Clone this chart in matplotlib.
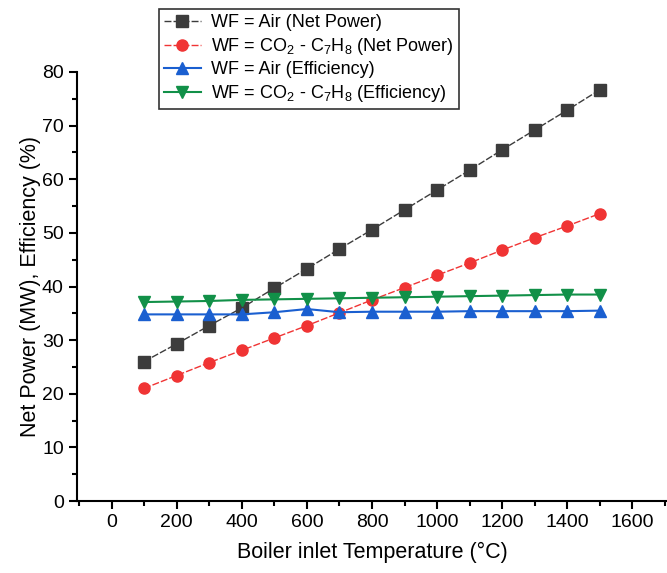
import matplotlib.pyplot as plt
from matplotlib.ticker import MultipleLocator

plt.rcParams['font.family'] = ['Liberation Sans', 'DejaVu Sans']
plt.rcParams['mathtext.default'] = 'regular'

temp = [100, 200, 300, 400, 500, 600, 700, 800, 900, 1000, 1100, 1200, 1300, 1400, 1500]
air_power = [26.0, 29.3, 32.7, 36.0, 39.7, 43.3, 47.0, 50.6, 54.3, 58.0, 61.7, 65.5, 69.2, 72.9, 76.7]
co2_power = [21.0, 23.4, 25.8, 28.1, 30.4, 32.7, 35.1, 37.5, 39.8, 42.1, 44.4, 46.8, 49.1, 51.3, 53.6]
air_eff = [34.8, 34.8, 34.8, 34.8, 35.2, 35.8, 35.2, 35.3, 35.3, 35.3, 35.4, 35.4, 35.4, 35.4, 35.5]
co2_eff = [37.1, 37.2, 37.3, 37.5, 37.6, 37.7, 37.8, 37.9, 38.0, 38.1, 38.2, 38.3, 38.4, 38.5, 38.5]

labels = ['WF = Air (Net Power)',
          'WF = CO$_2$ - C$_7$H$_8$ (Net Power)',
          'WF = Air (Efficiency)',
          'WF = CO$_2$ - C$_7$H$_8$ (Efficiency)']

fig = plt.figure(figsize=(6.67, 5.73), dpi=100)
ax = fig.add_axes([77 / 667, (573 - 501) / 573, 1 - 77 / 667, (501 - 72) / 573])

ax.plot(temp, air_power, color='#3c3c3c', marker='s', ms=8, lw=1, ls=(0, (5, 1.5)), label=labels[0])
ax.plot(temp, co2_power, color='#f03434', marker='o', ms=8, lw=1, ls=(0, (5, 1.5)), label=labels[1])
ax.plot(temp, air_eff, color='#1a5fd0', marker='^', ms=9, lw=1.5, label=labels[2])
ax.plot(temp, co2_eff, color='#119048', marker='v', ms=9, lw=1.5, label=labels[3])

ax.set_xlim(-106, 1706)
ax.set_ylim(0, 80)
ax.xaxis.set_major_locator(MultipleLocator(200))
ax.xaxis.set_minor_locator(MultipleLocator(100))
ax.yaxis.set_major_locator(MultipleLocator(10))
ax.yaxis.set_minor_locator(MultipleLocator(5))
ax.tick_params(which='major', direction='out', length=6, width=1.5, labelsize=14)
ax.tick_params(which='minor', direction='out', length=3.5, width=1.5)
for s in ['top', 'right']:
    ax.spines[s].set_visible(False)
for s in ['left', 'bottom']:
    ax.spines[s].set_linewidth(1.5)

ax.set_xlabel('Boiler inlet Temperature (°C)', fontsize=15.5, labelpad=8)
ax.set_ylabel('Net Power (MW), Efficiency (%)', fontsize=15.5, labelpad=1)

leg = ax.legend(loc='upper left', bbox_to_anchor=((159 - 77) / 590, 1 + 63 / 429),
                fontsize=13, frameon=True, fancybox=False, edgecolor='black',
                borderpad=0.3, labelspacing=0.25, handlelength=2.0, handletextpad=0.6,
                borderaxespad=0)
leg.get_frame().set_linewidth(1.2)

fig.savefig('out.png', dpi=100)
